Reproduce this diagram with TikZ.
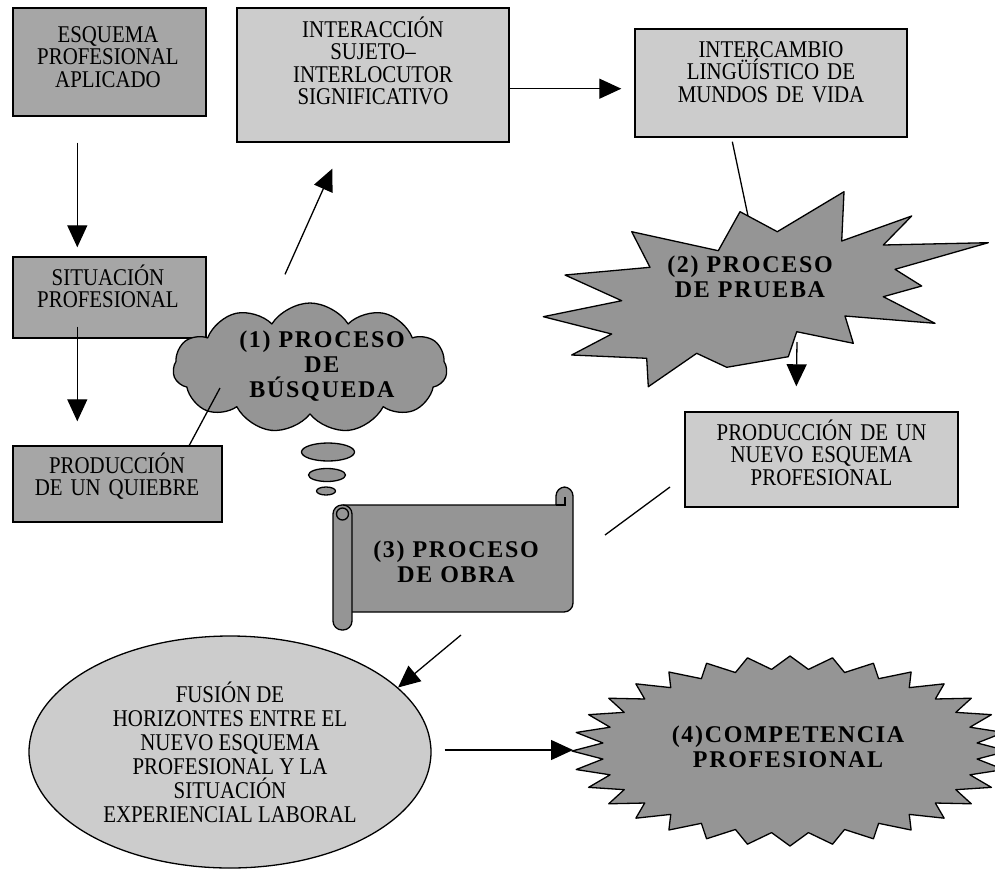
\documentclass[tikz,border=0pt]{standalone}
\usepackage{fontspec}
\setmainfont{Liberation Serif}[FakeStretch=0.87]
\newfontfamily\procfont{Liberation Serif}[FakeStretch=1.0,LetterSpace=7]
\usetikzlibrary{shapes.geometric,shapes.symbols,arrows.meta,calc}

\definecolor{boxdark}{HTML}{A6A6A6}
\definecolor{boxlight}{HTML}{CCCCCC}
\definecolor{shapegray}{HTML}{959595}

\tikzset{
  darkbox/.style={draw,line width=1.4pt,fill=boxdark,inner sep=0},
  lightbox/.style={draw,line width=1.4pt,fill=boxlight,inner sep=0},
  boxtext/.style={inner sep=0,anchor=base,align=center,text width=#1,
    font=\fontsize{24}{22.5}\selectfont},
  proctext/.style={inner sep=0,anchor=base,align=center,text width=#1,
    font=\procfont\bfseries\fontsize{24}{25}\selectfont},
  bigshape/.style={draw,line width=1.3pt,fill=shapegray,line join=round},
  >={Triangle[length=22pt,width=20pt]},
}

\begin{document}
\begin{tikzpicture}[x=1pt,y=-1pt,line width=1.3pt]
  \useasboundingbox (0,0) rectangle (995,870);
  \clip (0,0) rectangle (995,870);

  \node (esq) at (109.5,62) [darkbox,minimum width=193pt,minimum height=108pt]{};
  \node (esq-t) at (108,42) [boxtext=185pt]{ESQUEMA\\PROFESIONAL\\APLICADO};

  \node (sit) at (109.5,297.5) [darkbox,minimum width=193pt,minimum height=81pt]{};
  \node (sit-t) at (108,285) [boxtext=185pt]{SITUACIÓN\\PROFESIONAL};

  \node (quiebre) at (117.5,484) [darkbox,minimum width=209pt,minimum height=76pt]{};
  \node (quiebre-t) at (117,473) [boxtext=200pt]{PRODUCCIÓN\\DE UN QUIEBRE};

  \node (inter) at (373,75) [lightbox,minimum width=272pt,minimum height=134pt]{};
  \node (inter-t) at (373,37) [boxtext=260pt]{INTERACCIÓN\\SUJETO--\\INTERLOCUTOR\\SIGNIFICATIVO};

  \node (interc) at (771,83) [lightbox,minimum width=272pt,minimum height=108pt]{};
  \node (interc-t) at (771,57) [boxtext=260pt]{INTERCAMBIO\\LINGÜÍSTICO DE\\MUNDOS DE VIDA};

  \node (nuevo) at (821.5,459.5) [lightbox,minimum width=273pt,minimum height=95pt]{};
  \node (nuevo-t) at (821.5,440) [boxtext=265pt]{PRODUCCIÓN DE UN\\NUEVO ESQUEMA\\PROFESIONAL};

  \node (search) at (310,368) [cloud,bigshape,cloud puffs=11,cloud puff arc=115,aspect=2.1,
    minimum width=274pt,minimum height=130pt,inner sep=0]{};
  \node (b1) at (328,452) [ellipse,bigshape,minimum width=53pt,minimum height=18pt,inner sep=0]{};
  \node (b2) at (327,475) [ellipse,bigshape,minimum width=37pt,minimum height=13pt,inner sep=0]{};
  \node (b3) at (326,491) [ellipse,bigshape,minimum width=19pt,minimum height=8pt,inner sep=0]{};

  \draw[bigshape] (631.7,231.7) -- (718.3,250.7) -- (740,211.7) -- (777.3,231.7) -- (844,191.7)
    -- (841.7,241) -- (911.7,216) -- (883.3,245) -- (988.3,242.7) -- (895,269.3) -- (921.7,286)
    -- (883.3,296.7) -- (935,323.3) -- (845,316) -- (853.3,343.3) -- (796.7,331.7) -- (788.3,356.7)
    -- (726.7,367.3) -- (696.7,353.3) -- (648.3,386.7) -- (646.7,358.3) -- (571.7,355)
    -- (611.7,334) -- (543.3,316.7) -- (621.7,300.7) -- (565,275) -- (650,267.3) -- cycle;
  \coordinate (burst-top) at (748,216);
  \coordinate (burst-bot) at (797,342);

  \draw[bigshape] (343,505) -- (556,505) -- (556,496) [rounded corners=9pt] -- (556,487) -- (573,487)
    -- (573,612) [sharp corners] -- (343,612) -- cycle;
  \draw (556,505) -- (565,505) -- (565,497);
  \draw[bigshape,rounded corners=9pt] (333,505) rectangle (352,630);
  \draw (342.5,514) circle[radius=6pt];
  \coordinate (obra-bot) at (461,635);
  \coordinate (obra-r) at (605,535);
  \coordinate (nuevo-l) at (670,487);

  \node (fusion) at (230,752) [ellipse,draw,fill=boxlight,minimum width=402pt,minimum height=232pt,
    inner sep=0,align=center,font=\fontsize{24}{24}\selectfont]{FUSIÓN DE\\HORIZONTES ENTRE EL\\NUEVO ESQUEMA\\PROFESIONAL Y LA\\SITUACIÓN\\EXPERIENCIAL LABORAL};

  \coordinate (comp-c) at (790,751);
  \draw[bigshape] (comp-c) +(0:218 and 95) \foreach \k in {0,...,31}{
    -- +({\k*11.25+5.625}:188 and 82) -- +({\k*11.25+11.25}:218 and 95)} -- cycle;

  \node (search-t) at (322,347) [proctext=220pt]{(1) PROCESO\\DE\\BÚSQUEDA};
  \node (burst) at (750,272) [proctext=220pt]{(2) PROCESO\\DE PRUEBA};
  \node (obra) at (456,557) [proctext=220pt]{(3) PROCESO\\DE OBRA};
  \node (comp) at (788,742) [proctext=280pt]{(4)COMPETENCIA\\PROFESIONAL};

  \draw[->] ($(esq.south west)+(65,26)$) -- ($(sit.north west)+(65,-9)$);
  \draw[->] ($(sit.south west)+(65,-12)$) -- ($(quiebre.north west)+(65,-24)$);
  \draw ($(search)+(-90,20)$) -- ($(quiebre.north west)+(177,0)$);
  \draw[->] ($(search.north)+(-25,-28)$) -- ($(inter.south west)+(96,26)$);
  \draw[->] ($(inter.south east)+(0,-54)$) -- ($(interc.south west)+(-13,-49)$);
  \draw ($(interc.south west)+(98,4)$) -- (burst-top);
  \draw[->] (burst-bot) -- ($(nuevo.north west)+(112,-25)$);
  \draw (nuevo-l) -- (obra-r);
  \draw[->] (obra-bot) -- (fusion.21);
  \draw[->] ($(fusion.east)+(13,-2)$) -- ($(comp-c)+(-217,-1)$);

\end{tikzpicture}
\end{document}
